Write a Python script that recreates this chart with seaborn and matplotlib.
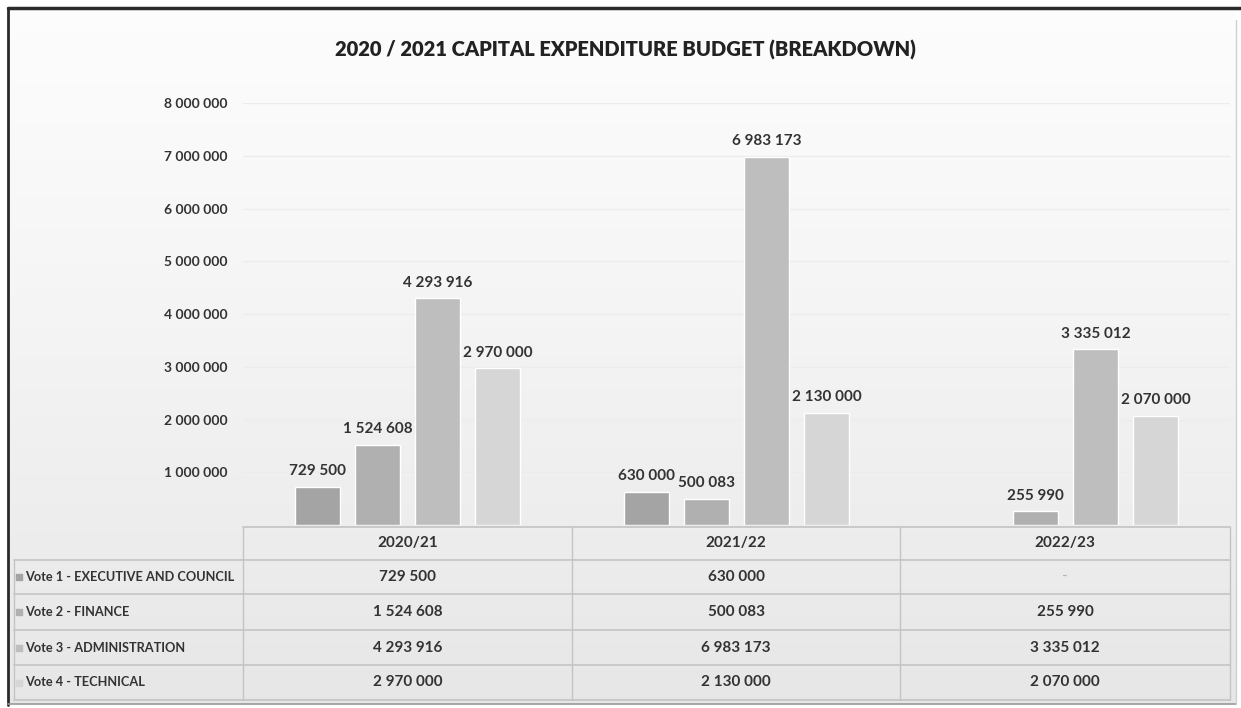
import numpy as np
import pandas as pd
import matplotlib
matplotlib.use("Agg")
import matplotlib.pyplot as plt
import seaborn as sns

# ---- data -------------------------------------------------------------
years = ["2020/21", "2021/22", "2022/23"]
votes = [
    "Vote 1 - EXECUTIVE AND COUNCIL",
    "Vote 2 - FINANCE",
    "Vote 3 - ADMINISTRATION",
    "Vote 4 - TECHNICAL",
]
vote1 = [729500, 630000, np.nan]
vote2 = [1524608, 500083, 255990]
vote3 = [4293916, 6983173, 3335012]
vote4 = [2970000, 2130000, 2070000]
y_ticks = [1000000, 2000000, 3000000, 4000000, 5000000, 6000000, 7000000, 8000000]
title = "2020 / 2021 CAPITAL EXPENDITURE BUDGET (BREAKDOWN)"

colors = ["#a4a4a4", "#b0b0b0", "#bebebe", "#d6d6d6"]

series = [vote1, vote2, vote3, vote4]
df = pd.DataFrame(
    [(y, v, vals[i]) for v, vals in zip(votes, series) for i, y in enumerate(years)],
    columns=["year", "vote", "value"],
)


def fmt(v):
    return f"{int(round(v)):,}".replace(",", " ")


sns.set_theme(style="white")
FONT = ["Lato", "DejaVu Sans"]
plt.rcParams["font.family"] = FONT
plt.rcParams["text.color"] = "#333333"

W, H, DPI = 1241, 708, 100
fig = plt.figure(figsize=(W / DPI, H / DPI), dpi=DPI)


def fx(x):
    return x / W


def fy(y):
    return 1 - y / H


# ---- background: soft vertical gradient and frame ---------------------
bg = fig.add_axes([0, 0, 1, 1], zorder=-10)
bg.set_xlim(0, W)
bg.set_ylim(H, 0)
bg.axis("off")
grad = np.linspace(0, 1, 256).reshape(-1, 1)
top_c = np.array([0.99, 0.99, 0.99])
bot_c = np.array([0.905, 0.905, 0.905])
img = top_c + (bot_c - top_c) * grad[..., None] ** 1.2
bg.imshow(img, extent=[9, 1236, 704, 9], aspect="auto", zorder=0)
bg.plot([8, W], [8, 8], color="#2a2a2a", lw=2.5, zorder=2)
bg.plot([8, 8], [8, 705], color="#2a2a2a", lw=2.0, zorder=2)
bg.plot([8, 1236], [704, 704], color="#9a9a9a", lw=1.2, zorder=2)
bg.plot([1236, 1236], [20, 704], color="#d0d0d0", lw=1.0, zorder=2)

fig.text(fx(625), fy(50), title, ha="center", va="center",
         fontsize=14.5, fontweight="heavy", color="#222222", family=FONT)

# ---- bars ---------------------------------------------------------------
ax = fig.add_axes([fx(243), fy(525), (1230 - 243) / W, (525 - 103) / H])
ax.patch.set_alpha(0)
sns.barplot(data=df, x="year", y="value", hue="vote", hue_order=votes,
            order=years, palette=colors, saturation=1, width=0.73, gap=0.25,
            legend=False, ax=ax, zorder=3)
ax.set_xlim(-0.5, 2.5)
ax.set_ylim(0, 8000000)
ax.set_yticks(y_ticks)
ax.set_yticklabels([fmt(t) for t in y_ticks], fontsize=10, fontweight="bold",
                   color="#333333")
ax.tick_params(axis="y", length=0, pad=11)
ax.set_xticks([])
ax.set_xlabel("")
ax.set_ylabel("")
for s in ax.spines.values():
    s.set_visible(False)
ax.yaxis.grid(True, color="#ececec", lw=1.0, zorder=0)
ax.set_axisbelow(True)

for cont in ax.containers:
    ax.bar_label(cont, labels=[fmt(v) for v in cont.datavalues], padding=6,
                 fontsize=11, fontweight="bold", color="#333333")

# ---- data table ----------------------------------------------------------
tb = fig.add_axes([0, 0, 1, 1], zorder=5)
tb.set_xlim(0, W)
tb.set_ylim(H, 0)
tb.axis("off")
col_x = [243, 572, 900, 1230]
row_y = [527, 560, 594, 630, 665, 700]
line_c = "#c4c4c4"
tb.plot([col_x[0], col_x[-1]], [row_y[0], row_y[0]], color=line_c, lw=1.2)
for y in row_y[1:]:
    tb.plot([14, col_x[-1]], [y, y], color=line_c, lw=1.2)
for x in col_x:
    tb.plot([x, x], [row_y[0], row_y[-1]], color=line_c, lw=1.0)
tb.plot([14, 14], [row_y[1], row_y[-1]], color=line_c, lw=1.0)

for j, yr in enumerate(years):
    cx = (col_x[j] + col_x[j + 1]) / 2
    tb.text(cx, (row_y[0] + row_y[1]) / 2, yr, ha="center", va="center",
            fontsize=11, fontweight="bold", color="#333333")

for i, (name, vals) in enumerate(zip(votes, series)):
    cy = (row_y[i + 1] + row_y[i + 2]) / 2
    tb.scatter([19], [cy], marker="s", s=20, color=colors[i], zorder=6)
    tb.text(25, cy, name, ha="left", va="center", fontsize=9.2,
            fontweight="bold", color="#333333")
    for j, v in enumerate(vals):
        cx = (col_x[j] + col_x[j + 1]) / 2
        if np.isnan(v):
            tb.text(cx, cy, "-", ha="center", va="center", fontsize=11,
                    color="#b0b0b0")
        else:
            tb.text(cx, cy, fmt(v), ha="center", va="center", fontsize=11,
                    fontweight="bold", color="#333333")

fig.savefig("out.png", dpi=DPI)
